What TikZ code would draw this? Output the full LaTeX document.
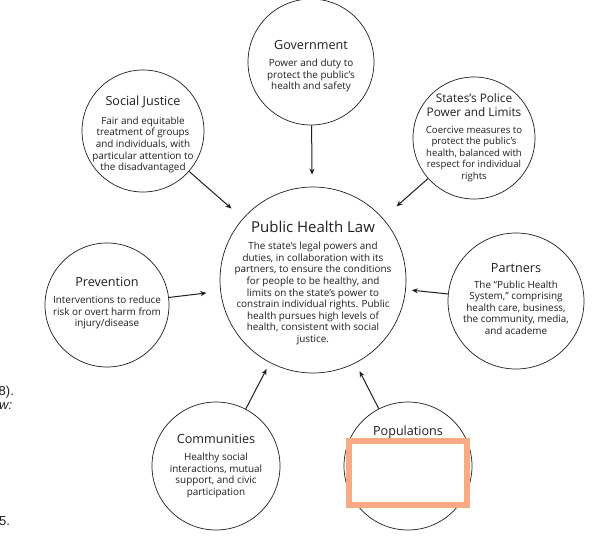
\documentclass[tikz,border=0pt]{standalone}
\usepackage{fontspec}
\setmainfont{Open Sans}
\newfontfamily\arialfont{Liberation Sans}
\usetikzlibrary{arrows.meta}
\definecolor{salmon}{RGB}{250,170,130}
\definecolor{ink}{RGB}{30,30,30}
\begin{document}
\begin{tikzpicture}[x=1pt,y=-1pt,
  bubble/.style={circle,draw=ink,line width=0.7pt,inner sep=0pt,minimum size=#1},
  ttl/.style={font=\fontsize{12.6}{14}\selectfont,text=ink,align=center,inner sep=0pt},
  body/.style={font=\fontsize{9.9}{11.6}\selectfont,text=ink,align=center,inner sep=0pt},
  frag/.style={font=\arialfont\fontsize{13}{14}\selectfont,text=ink,anchor=west,inner sep=0pt},
  arr/.style={-{Stealth[length=6pt,width=5pt]},line width=1pt,draw=ink}]
\useasboundingbox (0,0) rectangle (592,541);

% circles
\node[bubble=126pt] (gov) at (311,62) {};
\node[bubble=122pt] (sj) at (143,131) {};
\node[bubble=122pt] (pol) at (474,138) {};
\node[bubble=186pt] (phl) at (313,280) {};
\node[bubble=124pt] (prev) at (107,305) {};
\node[bubble=136pt] (part) at (516,301) {};
\node[bubble=128pt] (comm) at (216,466) {};
\node[bubble=128pt] (pop) at (408,466) {};

% texts
\node[ttl] (govt) at (311,45) {Government};
\node[body] (govb) at (311,75.5) {Power and duty to\\protect the public's\\health and safety};

\node[ttl] (sjt) at (143,102) {Social Justice};
\node[body] (sjb) at (143,145) {Fair and equitable\\treatment of groups\\and individuals, with\\particular attention to\\the disadvantaged};

\node[ttl,font=\fontsize{11.8}{14}\selectfont] (polt) at (474,105) {States's Police\\Power and Limits};
\node[body,font=\fontsize{9.6}{11.6}\selectfont] (polb) at (474,154) {Coercive measures to\\protect the public's\\health, balanced with\\respect for individual\\rights};

\node[ttl,font=\fontsize{15}{17}\selectfont] (phlt) at (313,227) {Public Health Law};
\node[body] (phlb) at (313,293.5) {The state's legal powers and\\duties, in collaboration with its\\partners, to ensure the conditions\\for people to be healthy, and\\limits on the state's power to\\constrain individual rights. Public\\health pursues high levels of\\health, consistent with social\\justice.};

\node[ttl] (prevt) at (107,282) {Prevention};
\node[body] (prevb) at (107,312.5) {Interventions to reduce\\risk or overt harm from\\injury/disease};

\node[ttl] (partt) at (516,268) {Partners};
\node[body] (partb) at (516,307.5) {The ``Public Health\\System,'' comprising\\health care, business,\\the community, media,\\and academe};

\node[ttl] (commt) at (216,439) {Communities};
\node[body] (commb) at (216,475.5) {Healthy social\\interactions, mutual\\support, and civic\\participation};

\node[ttl] (popt) at (408,432) {Populations};

% mask rectangle
\node[draw=salmon,line width=6pt,fill=white,minimum width=118pt,minimum height=64pt,inner sep=0pt] (mask) at (408,473) {};

% arrows
\draw[arr,shorten >=12pt] (gov) -- (phl);
\draw[arr,shorten >=15pt] (sj) -- (phl);
\draw[arr,shorten >=18pt] (pol) -- (phl);
\draw[arr,shorten >=14pt] (prev) -- (phl);
\draw[arr,shorten >=6pt] (part) -- (phl);
\draw[arr,shorten >=7pt] (comm) -- (phl);
\draw[arr,shorten >=9pt] (pop) -- (phl);

% cut-off text fragments at left edge
\node[frag] (f1) at (-1.5,392) {8).};
\node[frag] (f2) at (-1,406) {\itshape w:};
\node[frag] (f3) at (-1,521) {5.};
\end{tikzpicture}
\end{document}
